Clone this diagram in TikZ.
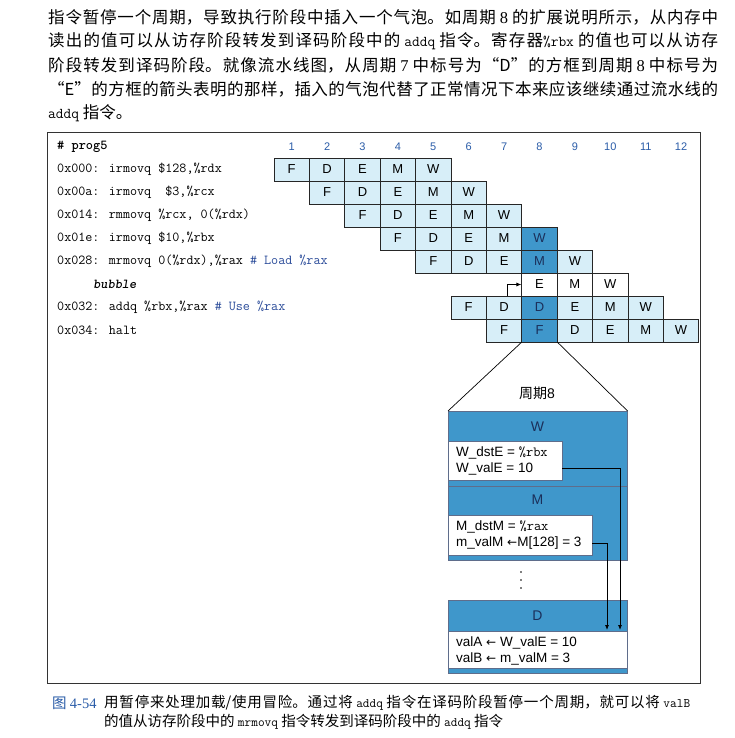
\documentclass[tikz,border=0pt]{standalone}
\usepackage{fontspec}
\setmainfont{Liberation Serif}
\newfontfamily\cjk{Noto Sans CJK SC}
\newfontfamily\sansf{Liberation Sans}
\newfontfamily\arrowf{DejaVu Sans}
\usetikzlibrary{arrows.meta}
\XeTeXlinebreaklocale "zh"
\XeTeXlinebreakskip=0pt plus 6pt minus 0.3pt
\tolerance=9999
\hbadness=10000
\hfuzz=20pt
\definecolor{cellblue}{HTML}{D7EEF8}
\definecolor{darkcell}{HTML}{3F97CB}
\definecolor{numblue}{HTML}{2A5CA8}
\definecolor{navy}{HTML}{1B2F5A}
\definecolor{cmtblue}{HTML}{2B4C9A}
\tikzset{
  cell/.style={draw=black!85, line width=0.7pt, fill=cellblue, minimum width=35.4pt, minimum height=23pt, inner sep=0pt, font=\sansf\fontsize{13}{13}\selectfont},
  hot/.style={cell, fill=darkcell, text=navy},
  bub/.style={cell, fill=white},
  colnum/.style={inner sep=0pt, font=\sansf\fontsize{11}{11}\selectfont, text=numblue},
  code/.style={anchor=west, inner sep=0pt, font=\ttfamily\fontsize{13.7}{14}\selectfont},
  para/.style={anchor=west, inner sep=0pt, font=\cjk\fontsize{16.5}{20}\selectfont},
  captext/.style={anchor=west, inner sep=0pt, font=\cjk\fontsize{14.5}{18}\selectfont},
  region/.style={anchor=north west, fill=darkcell, draw=navy!70, line width=0.6pt, minimum width=179pt, inner sep=0pt},
  wbox/.style={anchor=north west, fill=white, draw=navy!70, line width=0.5pt, inner sep=0pt},
  lab/.style={inner sep=0pt, text=navy, font=\sansf\fontsize{14}{14}\selectfont},
  dtext/.style={anchor=west, align=left, inner sep=0pt, font=\sansf\fontsize{13.5}{16}\selectfont},
  conn/.style={line width=0.8pt, -{Latex[length=5pt,width=4pt]}},
}
\newcommand{\tta}[1]{{\ttfamily\fontsize{15}{15}\selectfont #1}}
\newcommand{\ttc}[1]{{\ttfamily\fontsize{13}{13}\selectfont #1}}
\newcommand{\dta}[1]{{\ttfamily\fontsize{14}{14}\selectfont #1}}
\newcommand{\larr}{{\arrowf\fontsize{12}{12}\selectfont ←}}
\begin{document}
\begin{tikzpicture}[x=1pt,y=-1pt]
\useasboundingbox (0,0) rectangle (735,738);
\fill[white] (0,0) rectangle (735,738);

% ---- paragraph above ----
\node[para] (p1) at (48,17) {\parbox{670pt}{\parfillskip=0pt\noindent 指令暂停一个周期，导致执行阶段中插入一个气泡。如周期 {\rmfamily 8} 的扩展说明所示，从内存中}};
\node[para] (p2) at (48,41) {\parbox{670pt}{\parfillskip=0pt\noindent 读出的值可以从访存阶段转发到译码阶段中的 \tta{addq} 指令。寄存器\tta{\%rbx} 的值也可以从访存}};
\node[para] (p3) at (48,65) {\parbox{670pt}{\parfillskip=0pt\noindent 阶段转发到译码阶段。就像流水线图，从周期 {\rmfamily 7} 中标号为“D”的方框到周期 {\rmfamily 8} 中标号为}};
\node[para] (p4) at (48,89) {\parbox{670pt}{\parfillskip=0pt\noindent “E”的方框的箭头表明的那样，插入的气泡代替了正常情况下本来应该继续通过流水线的}};
\node[para] (p5) at (48,113) {\tta{addq} 指令。};

% ---- frame ----
\draw[line width=0.8pt, black!80] (47,132) rectangle (700,683);

% ---- listing ----
\node[code] (h0) at (57,147) {\bfseries \# prog5};
\node[code] (l1) at (57,169.5) {0x000: irmovq \$128,\%rdx};
\node[code] (l2) at (57,192.5) {0x00a: irmovq\ \ \$3,\%rcx};
\node[code] (l3) at (57,215.5) {0x014: rmmovq \%rcx, 0(\%rdx)};
\node[code] (l4) at (57,238.5) {0x01e: irmovq \$10,\%rbx};
\node[code] (l5) at (57,261.5) {0x028: mrmovq 0(\%rdx),\%rax {\color{cmtblue}\# Load \%rax}};
\node[code] (l6) at (93,284.5) {\bfseries\itshape bubble};
\node[code] (l7) at (57,307.5) {0x032: addq \%rbx,\%rax {\color{cmtblue}\# Use \%rax}};
\node[code] (l8) at (57,330.5) {0x034: halt};

% ---- column numbers ----
\foreach \i in {1,...,12}
  \node[colnum] (n\i) at ({274+(\i-0.5)*35.4},147) {\i};

% ---- pipeline cells ----
\foreach \r/\s/\seq in {
  1/1/{F/cell,D/cell,E/cell,M/cell,W/cell},
  2/2/{F/cell,D/cell,E/cell,M/cell,W/cell},
  3/3/{F/cell,D/cell,E/cell,M/cell,W/cell},
  4/4/{F/cell,D/cell,E/cell,M/cell,W/hot},
  5/5/{F/cell,D/cell,E/cell,M/hot,W/cell},
  6/8/{E/bub,M/bub,W/bub},
  7/6/{F/cell,D/cell,D/hot,E/cell,M/cell,W/cell},
  8/7/{F/cell,F/hot,D/cell,E/cell,M/cell,W/cell}}{
  \foreach \L/\st [count=\k from 0] in \seq {
    \pgfmathtruncatemacro{\cc}{\s+\k}
    \node[\st] (c\r-\cc) at ({274+(\cc-0.5)*35.4},{158+(\r-0.5)*23}) {\L};
  }
}

% ---- bubble arrow ----
\draw[line width=0.8pt, -{Latex[length=5pt,width=4pt]}] ([xshift=3pt]c7-7.north) |- (c6-8.west);

% ---- detail ----
\node[region, minimum height=75pt] (Wreg) at (448,411) {};
\node[region, minimum height=74pt] (Mreg) at (448,486) {};
\node[region, minimum height=73pt] (Dreg) at (448,600) {};

\draw[line width=0.7pt] (c8-8.south west) -- (Wreg.north west);
\draw[line width=0.7pt] (c8-8.south east) -- (Wreg.north east);
\node[inner sep=0pt, font=\cjk\fontsize{14}{14}\selectfont] (cyc) at (537,393) {周期{\sansf 8}};

\node[lab] (Wlab) at (537.5,427) {W};
\node[lab] (Mlab) at (537.5,500) {M};
\node[lab] (Dlab) at (537.5,616) {D};

\node[wbox, minimum width=114pt, minimum height=39pt] (Wbox) at (448,441) {};
\node[wbox, minimum width=144pt, minimum height=40pt] (Mbox) at (448,515) {};
\node[wbox, minimum width=179pt, minimum height=37pt] (Dbox) at (448,631) {};

\node[dtext] (Wtxt) at (456,460.5) {W\_dstE = \dta{\%rbx}\\W\_valE = 10};
\node[dtext] (Mtxt) at (456,535) {M\_dstM = \dta{\%rax}\\m\_valM \larr M[128] = 3};
\node[dtext] (Dtxt) at (456,651) {valA \larr\ W\_valE = 10\\valB \larr\ m\_valM = 3};

\foreach \yy [count=\j] in {572,580,588}
  \fill (521,\yy) circle[radius=0.9pt] coordinate (dot\j);

\coordinate (wvS) at (562,468);
\coordinate (wvE) at (620,630);
\coordinate (mvS) at (592,543);
\coordinate (mvE) at (607,630);
\draw[conn] (wvS) -| (wvE);
\draw[conn] (mvS) -| (mvE);

% ---- caption ----
\node[captext, text=numblue] (cfig) at (52,703) {图 {\rmfamily 4-54}};
\node[captext] (cap1) at (104,703) {\parbox{586pt}{\parfillskip=0pt\noindent 用暂停来处理加载/使用冒险。通过将 \ttc{addq} 指令在译码阶段暂停一个周期，就可以将 \ttc{valB}}};
\node[captext] (cap2) at (104,722) {的值从访存阶段中的 \ttc{mrmovq} 指令转发到译码阶段中的 \ttc{addq} 指令};
\end{tikzpicture}
\end{document}
